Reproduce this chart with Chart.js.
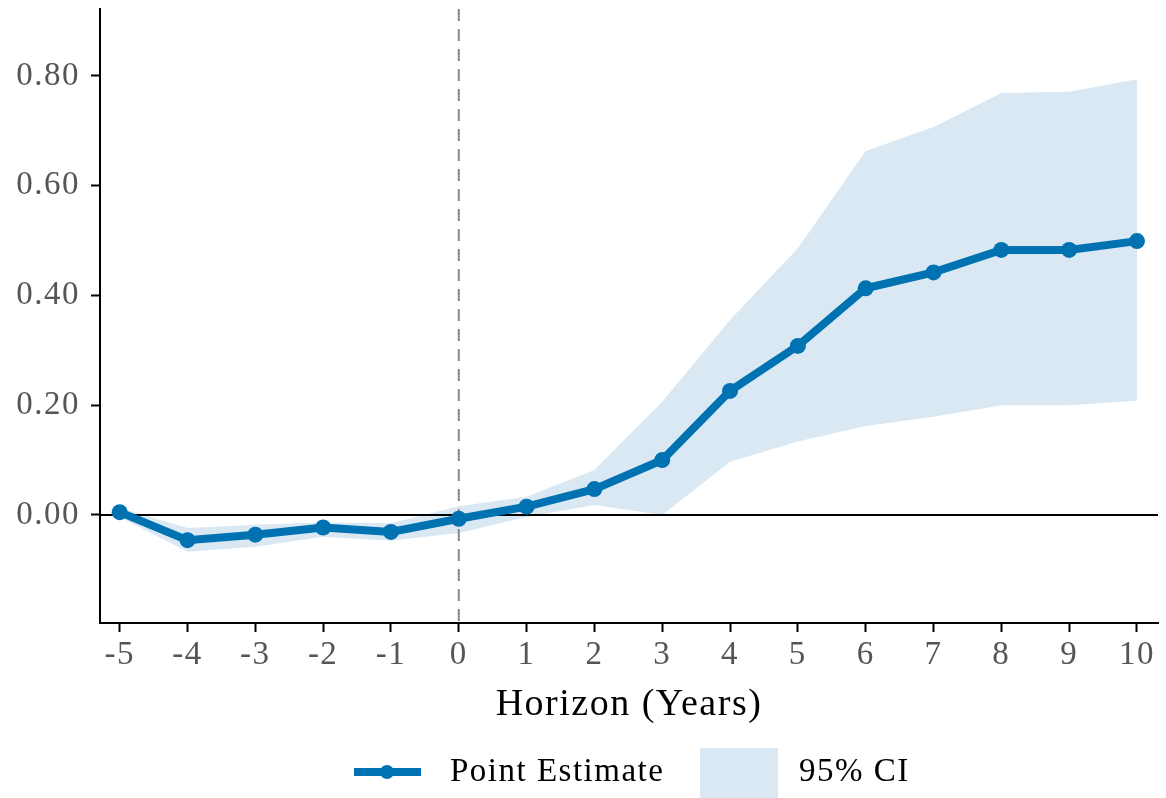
<!DOCTYPE html>
<html>
<head>
<meta charset="utf-8">
<script src="https://cdn.jsdelivr.net/npm/chart.js@4"></script>
<style>
  html, body { margin: 0; padding: 0; background: #fff; }
  #wrap { width: 1166px; height: 798px; }
</style>
</head>
<body>
<div id="wrap"><canvas id="myChart"></canvas></div>
<script>
const horizon = [-5, -4, -3, -2, -1, 0, 1, 2, 3, 4, 5, 6, 7, 8, 9, 10];
const pointEstimate = [0.005, -0.046, -0.036, -0.023, -0.031, -0.007, 0.015, 0.047, 0.100, 0.226, 0.308, 0.413, 0.442, 0.483, 0.483, 0.499];
const ciUpper = [0.013, -0.024, -0.018, -0.014, -0.015, 0.016, 0.033, 0.082, 0.206, 0.355, 0.486, 0.663, 0.707, 0.769, 0.771, 0.794];
const ciLower = [-0.004, -0.067, -0.058, -0.040, -0.047, -0.033, -0.004, 0.018, 0.000, 0.097, 0.134, 0.162, 0.179, 0.200, 0.200, 0.208];
const yTicks = [0, 0.2, 0.4, 0.6, 0.8];
const xTicks = horizon;

const lineBlue = 'rgb(0, 114, 178)';
const ciBlue = 'rgb(217, 232, 242)';
const tickGray = '#555555';

Chart.defaults.font.family = "'Liberation Serif', 'Times New Roman', serif";

const toXY = (ys) => horizon.map((h, i) => ({ x: h, y: ys[i] }));

// the reference text is a bit spread out
const spacing = {
  id: 'spacing',
  beforeDraw(chart) { chart.ctx.letterSpacing = '1.5px'; }
};

// reference lines: y = 0 and dashed x = 0, drawn above the band but under the estimate
const refLines = {
  id: 'refLines',
  beforeDatasetDraw(chart, args) {
    if (args.index !== 2) return;
    const { ctx, chartArea, scales } = chart;
    const y0 = scales.y.getPixelForValue(0);
    const x0 = scales.x.getPixelForValue(0);
    ctx.save();
    ctx.strokeStyle = '#000';
    ctx.lineWidth = 2;
    ctx.beginPath();
    ctx.moveTo(chartArea.left, y0);
    ctx.lineTo(chartArea.right, y0);
    ctx.stroke();
    ctx.strokeStyle = '#888';
    ctx.setLineDash([12, 8]);
    ctx.beginPath();
    ctx.moveTo(x0, chartArea.top);
    ctx.lineTo(x0, chartArea.bottom);
    ctx.stroke();
    ctx.restore();
  }
};

const bottomLegend = {
  id: 'bottomLegend',
  afterDraw(chart) {
    const ctx = chart.ctx;
    const cy = 772;
    ctx.save();
    ctx.strokeStyle = lineBlue;
    ctx.lineWidth = 8;
    ctx.beginPath();
    ctx.moveTo(354, cy);
    ctx.lineTo(421, cy);
    ctx.stroke();
    ctx.fillStyle = lineBlue;
    ctx.beginPath();
    ctx.arc(387, cy, 7, 0, Math.PI * 2);
    ctx.fill();
    ctx.fillStyle = ciBlue;
    ctx.fillRect(700, 748, 78, 50);
    ctx.fillStyle = '#000';
    ctx.font = "33px 'Liberation Serif', 'Times New Roman', serif";
    ctx.textBaseline = 'middle';
    ctx.fillText('Point Estimate', 450, cy);
    ctx.fillText('95% CI', 799, cy);
    ctx.restore();
  }
};

const ctx = document.getElementById('myChart');

new Chart(ctx, {
  type: 'line',
  data: {
    datasets: [
      {
        label: '95% CI',
        data: toXY(ciUpper),
        borderWidth: 0,
        pointRadius: 0,
        backgroundColor: ciBlue,
        fill: '+1',
        order: 1
      },
      {
        label: 'CI lower',
        data: toXY(ciLower),
        borderWidth: 0,
        pointRadius: 0,
        fill: false,
        order: 1
      },
      {
        label: 'Point Estimate',
        data: toXY(pointEstimate),
        borderColor: lineBlue,
        backgroundColor: lineBlue,
        borderWidth: 8,
        pointRadius: 8,
        pointBackgroundColor: lineBlue,
        pointBorderWidth: 0,
        tension: 0,
        fill: false,
        order: 0
      }
    ]
  },
  options: {
    responsive: true,
    maintainAspectRatio: false,
    animation: false,
    layout: { padding: { top: 9, right: 6, bottom: 70, left: 0 } },
    plugins: {
      legend: { display: false },
      tooltip: { enabled: false }
    },
    scales: {
      x: {
        type: 'linear',
        min: -5.29,
        max: 10.31,
        afterBuildTicks: (scale) => { scale.ticks = xTicks.map(v => ({ value: v })); },
        afterFit: (scale) => { scale.height = 105; scale.paddingLeft = 0; scale.paddingRight = 0; },
        grid: { drawOnChartArea: false, drawTicks: true, tickLength: 9, tickColor: '#000', tickWidth: 2 },
        border: { display: true, color: '#000', width: 2 },
        ticks: {
          color: tickGray,
          font: { size: 33 },
          padding: 4,
          maxRotation: 0,
          callback: (v) => String(v)
        },
        title: {
          display: true,
          text: 'Horizon (Years)',
          color: '#000',
          font: { size: 38 },
          padding: { top: 0, bottom: 0 }
        }
      },
      y: {
        min: -0.197,
        max: 0.922,
        afterBuildTicks: (scale) => { scale.ticks = yTicks.map(v => ({ value: v })); },
        afterFit: (scale) => { scale.width = 100; scale.paddingTop = 0; scale.paddingBottom = 0; },
        grid: { drawOnChartArea: false, drawTicks: true, tickLength: 9, tickColor: '#000', tickWidth: 2 },
        border: { display: true, color: '#000', width: 2 },
        ticks: {
          color: tickGray,
          font: { size: 33 },
          padding: 11,
          callback: (v) => Number(v).toFixed(2)
        }
      }
    }
  },
  plugins: [spacing, refLines, bottomLegend]
});
</script>
</body>
</html>
